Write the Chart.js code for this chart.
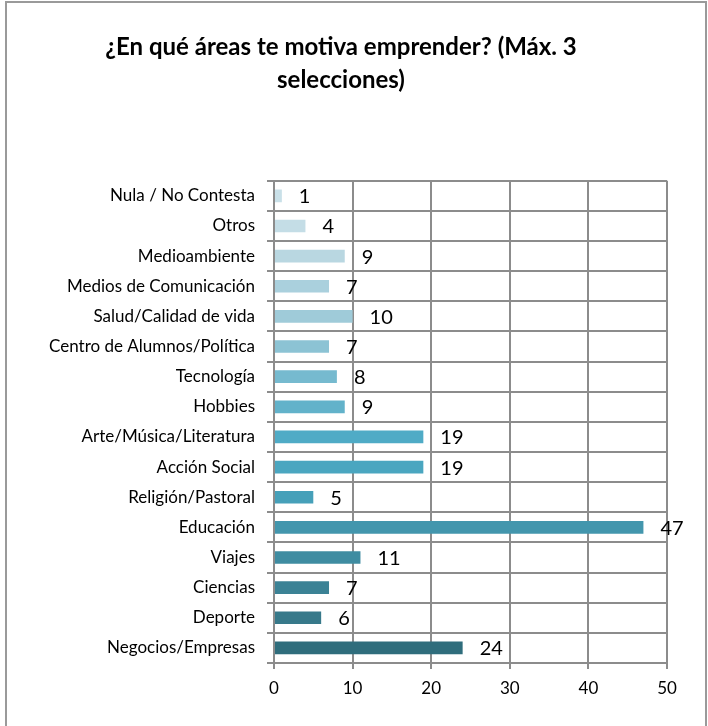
<!DOCTYPE html>
<html>
<head>
<meta charset="utf-8">
<script src="https://cdn.jsdelivr.net/npm/chart.js@4"></script>
<style>
  html, body { margin: 0; padding: 0; background: #fff; }
  #wrap { width: 708px; height: 726px; }
</style>
</head>
<body>
<div id="wrap"><canvas id="chart" width="708" height="726"></canvas></div>
<script>
// --- Daten (oben nach unten, wie im Bild) ---
const categories = [
    'Nula / No Contesta', 'Otros', 'Medioambiente', 'Medios de Comunicación',
    'Salud/Calidad de vida', 'Centro de Alumnos/Política', 'Tecnología', 'Hobbies',
    'Arte/Música/Literatura', 'Acción Social', 'Religión/Pastoral', 'Educación',
    'Viajes', 'Ciencias', 'Deporte', 'Negocios/Empresas'
];
const values = [1, 4, 9, 7, 10, 7, 8, 9, 19, 19, 5, 47, 11, 7, 6, 24];
const barColors = [
    '#c9e0e8', '#c4dde6', '#b9d7e1', '#aad0dd', '#9fcbd9', '#8cc3d4', '#76bacf', '#62b2ca',
    '#4fabc6', '#4aa6c0', '#46a0b9', '#4396ad', '#3f8ca1', '#3b8295', '#37798a', '#2f6d7c'
];
const xTicks = [0, 10, 20, 30, 40, 50];
const titleLines = ['¿En qué áreas te motiva emprender? (Máx. 3', 'selecciones)'];

const FONT = 'Lato, "Open Sans", sans-serif';
const gridColor = '#8c8c8c';

// --- Rahmen um das Diagramm ---
const framePlugin = {
    id: 'frame',
    beforeDraw(chart) {
        const ctx = chart.ctx;
        ctx.save();
        ctx.fillStyle = '#fff';
        ctx.fillRect(0, 0, chart.width, chart.height);
        ctx.strokeStyle = '#9a9a9a';
        ctx.lineWidth = 2;
        ctx.strokeRect(6, 2, 700, chart.height + 10);
        ctx.restore();
    }
};

// --- Werte rechts neben den Balken ---
const labelPlugin = {
    id: 'barValues',
    afterDatasetsDraw(chart) {
        const ctx = chart.ctx;
        const meta = chart.getDatasetMeta(0);
        ctx.save();
        ctx.font = '20px ' + FONT;
        ctx.fillStyle = '#000';
        ctx.textAlign = 'left';
        ctx.textBaseline = 'middle';
        meta.data.forEach((bar, i) => {
            ctx.fillText(String(values[i]), bar.x + 17, bar.y + 1);
        });
        ctx.restore();
    }
};

new Chart(document.getElementById('chart'), {
    type: 'bar',
    data: {
        labels: categories,
        datasets: [{
            data: values,
            backgroundColor: barColors,
            borderWidth: 0,
            barPercentage: 0.42,
            categoryPercentage: 1
        }]
    },
    options: {
        indexAxis: 'y',
        responsive: false,
        animation: false,
        layout: { padding: { left: 15, right: 41, top: 2, bottom: 18 } },
        plugins: {
            legend: { display: false },
            tooltip: { enabled: false },
            title: {
                display: true,
                text: titleLines,
                color: '#000',
                font: { family: FONT, size: 24, weight: 'bold', lineHeight: 1.37 },
                padding: { top: 29, bottom: 84 }
            }
        },
        scales: {
            x: {
                min: 0,
                max: 50,
                afterBuildTicks(scale) {
                    scale.ticks = xTicks.map(v => ({ value: v }));
                },
                afterFit(scale) { scale.height = 45; },
                grid: { color: gridColor, lineWidth: 2, tickLength: 6 },
                border: { color: gridColor, width: 2 },
                ticks: { color: '#000', padding: 9, font: { family: FONT, size: 17 } }
            },
            y: {
                afterFit(scale) { scale.width = 259; },
                grid: { color: gridColor, lineWidth: 2, tickLength: 7, offset: true },
                border: { color: gridColor, width: 2 },
                ticks: { color: '#000', padding: 12, autoSkip: false, font: { family: FONT, size: 17 } }
            }
        }
    },
    plugins: [framePlugin, labelPlugin]
});
</script>
</body>
</html>
